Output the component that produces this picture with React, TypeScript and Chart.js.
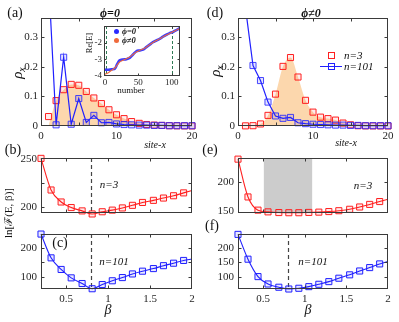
import React, { useEffect, useRef } from 'react';
import { Chart, registerables } from 'chart.js';
Chart.register(...registerables);

const SERIF = '"Liberation Serif", "Times New Roman", "DejaVu Serif", serif';
const W = 399;
const H = 322;

// ---------- data ----------
const sites = [1, 2, 3, 4, 5, 6, 7, 8, 9, 10, 11, 12, 13, 14, 15, 16, 17, 18, 19, 20];
// (a) phi = 0
const rhoA_n3 = [0.032, 0.086, 0.123, 0.141, 0.138, 0.117, 0.095, 0.076, 0.055, 0.038, 0.025, 0.015, 0.009, 0.005, 0.003, 0.002, 0.001, 0.0007, 0.0004, 0.0002];
const fillA = [0, 0.086, 0.123, 0.141, 0.138, 0.117, 0.095, 0.076, 0.055, 0.038, 0.025, 0.015, 0.009, 0.005, 0.003, 0.002, 0.001, 0.0007, 0.0004, 0.0002];
const rhoA_n101 = [0.5, 0.004, 0.233, 0.006, 0.093, 0.012, 0.036, 0.011, 0.012, 0.007, 0.005, 0.004, 0.003, 0.003, 0.002, 0.002, 0.001, 0.001, 0.001, 0.001];
// (d) phi != 0
const rhoD_n3 = [0.0005, 0.001, 0.007, 0.036, 0.108, 0.202, 0.232, 0.166, 0.087, 0.047, 0.03, 0.025, 0.02, 0.01, 0.004, 0.001, 0.0005, 0.0003, 0.0002, 0.0001];
const fillD = [0, 0, 0.007, 0.036, 0.108, 0.202, 0.232, 0.166, 0.087, 0.047, 0.03, 0.025, 0.02, 0.01, 0.004, 0.001, 0.0005, 0.0003, 0.0002, 0.0001];
const rhoD_n101 = [0.4, 0.205, 0.154, 0.081, 0.034, 0.026, 0.029, 0.011, 0.008, 0.006, 0.005, 0.004, 0.003, 0.003, 0.002, 0.002, 0.001, 0.001, 0.001, 0.001];

// lower panels: ln[F] vs beta
const beta = [0.2, 0.32, 0.44, 0.56, 0.69, 0.81, 0.93, 1.05, 1.17, 1.29, 1.41, 1.54, 1.66, 1.78, 1.9];
const betaEnd = 2.0;
const lnF_b = [251, 218, 205.5, 199.7, 196.2, 193, 195.3, 197, 199.3, 202, 205, 207.2, 209.6, 212, 215];
const lnF_bEnd = 217.5;
const lnF_c = [247, 165, 125, 96, 76.5, 58.5, 73, 86, 97, 109.5, 119, 128, 138, 146.5, 156];
const lnF_cEnd = 161;
const lnF_e = [240, 174, 151, 148, 146.8, 146.5, 146.5, 147, 147.5, 148.5, 150, 152.5, 156.5, 161, 166];
const lnF_eEnd = 170;
const lnF_f = [245, 161, 102, 77, 66, 60, 62.5, 68, 76, 85, 96.5, 108, 121, 132.5, 145];
const lnF_fEnd = 153;
const betaStar = 0.8;
const shadeE = [0.51, 1.09];

// inset: Re[E] vs number
const insetNum = [0, 5, 10, 15, 18, 22, 27, 32, 37, 42, 47, 52, 57, 62, 67, 72, 77, 82, 87, 92, 97, 102, 107, 112];
const reE_phi0 = [-3.62, -3.62, -3.6, -3.55, -3.3, -3.05, -3.0, -2.98, -2.9, -2.7, -2.5, -2.45, -2.4, -2.25, -2.1, -1.95, -1.85, -1.75, -1.62, -1.5, -1.4, -1.33, -1.22, -1.1];
const reE_phi1 = [-3.9, -3.8, -3.65, -3.5, -3.35, -3.15, -3.05, -2.95, -2.85, -2.7, -2.55, -2.45, -2.37, -2.25, -2.1, -1.97, -1.85, -1.75, -1.63, -1.52, -1.42, -1.32, -1.22, -1.12];
const insetMarks = [1, 101];

// tick values
const siteTicks = [0, 5, 10, 15, 20];
const siteLabels = [0, 10, 20];
const rhoTicks = [0, 0.1, 0.2, 0.3];
const betaTicks = [0.5, 1, 1.5, 2];

// ---------- styling ----------
const RED = '#ff2020';
const BLUE = '#2020ff';
const FILL = '#fcd7ad';
const MR = 4.3;

type Box = { L: number; T: number; R: number; B: number };

const near = (a: number, list: number[]) => list.some((v) => Math.abs(v - a) < 1e-9);

function framePlugin(cfg: any) {
  return {
    id: 'frame',
    beforeDatasetsDraw(chart: any) {
      const { ctx, chartArea: a, scales } = chart;
      ctx.save();
      if (cfg.bg) {
        ctx.fillStyle = cfg.bg;
        ctx.fillRect(a.left, a.top, a.right - a.left, a.bottom - a.top);
      }
      if (cfg.shade) {
        const x0 = scales.x.getPixelForValue(cfg.shade[0]);
        const x1 = scales.x.getPixelForValue(cfg.shade[1]);
        ctx.fillStyle = '#cccccc';
        ctx.fillRect(x0, a.top, x1 - x0, a.bottom - a.top);
      }
      (cfg.vlines || []).forEach((vl: any) => {
        const x = Math.round(scales.x.getPixelForValue(vl.x)) + 0.5;
        ctx.strokeStyle = vl.color;
        ctx.lineWidth = vl.width || 1;
        ctx.setLineDash(vl.dash);
        ctx.beginPath();
        ctx.moveTo(x, a.top);
        ctx.lineTo(x, a.bottom);
        ctx.stroke();
      });
      ctx.restore();
    },
    afterDatasetsDraw(chart: any) {
      const { ctx, chartArea: a, scales } = chart;
      ctx.save();
      ctx.strokeStyle = '#3a3a3a';
      ctx.lineWidth = 1;
      ctx.setLineDash([]);
      const l = Math.round(a.left) + 0.5;
      const r = Math.round(a.right) - 0.5;
      const t = Math.round(a.top) + 0.5;
      const b = Math.round(a.bottom) - 0.5;
      ctx.strokeRect(l, t, r - l, b - t);
      const len = cfg.tickLen;
      ctx.beginPath();
      scales.x.ticks.forEach((tk: any) => {
        const x = Math.round(scales.x.getPixelForValue(tk.value)) + 0.5;
        if (x <= l + 1 || x >= r - 1) return;
        ctx.moveTo(x, b);
        ctx.lineTo(x, b - len);
        ctx.moveTo(x, t);
        ctx.lineTo(x, t + len);
      });
      scales.y.ticks.forEach((tk: any) => {
        const y = Math.round(scales.y.getPixelForValue(tk.value)) + 0.5;
        if (y <= t + 1 || y >= b - 1) return;
        ctx.moveTo(l, y);
        ctx.lineTo(l + len, y);
        ctx.moveTo(r, y);
        ctx.lineTo(r - len, y);
      });
      ctx.stroke();
      ctx.restore();
    },
  };
}

function axis(min: number, max: number, ticks: number[], labels: number[], fmt: (v: number) => string, fontSize: number, pad: number, isX: boolean, size: number) {
  return {
    type: 'linear',
    min,
    max,
    grid: { display: false, drawTicks: false },
    border: { display: false },
    afterFit: (s: any) => {
      if (isX) s.height = size;
      else s.width = size;
    },
    afterBuildTicks: (s: any) => {
      s.ticks = ticks.map((v) => ({ value: v }));
    },
    ticks: {
      autoSkip: false,
      maxRotation: 0,
      minRotation: 0,
      padding: pad,
      color: '#262626',
      font: { family: SERIF, size: fontSize },
      callback: (v: any) => (near(Number(v), labels) ? fmt(Number(v)) : ''),
    },
  };
}

function makeConfig(spec: any) {
  const { box, xr, yr, datasets, plugin, font = 11, xw = 20, yw = 40, xpad = 4, ypad = 4 } = spec;
  const b: Box = box;
  return {
    type: 'line',
    data: { datasets },
    options: {
      animation: false,
      responsive: false,
      maintainAspectRatio: false,
      devicePixelRatio: 1,
      events: [],
      layout: { padding: { left: b.L - yw, top: b.T, right: W - b.R, bottom: H - b.B - xw } },
      plugins: { legend: { display: false }, tooltip: { enabled: false } },
      scales: {
        x: axis(xr.min, xr.max, xr.ticks, xr.labels, xr.fmt, font, xpad, true, xw),
        y: axis(yr.min, yr.max, yr.ticks, yr.labels, yr.fmt, font, ypad, false, yw),
      },
    },
    plugins: [plugin],
  };
}

const pts = (xs: number[], ys: number[]) => xs.map((x, i) => ({ x, y: ys[i] }));
const fmtPlain = (v: number) => String(v);
const fmtRho = (v: number) => (v === 0 ? '0' : v.toFixed(1));

function rhoPanel(box: Box, n3: number[], fill: number[], n101: number[]) {
  return {
    box,
    xr: { min: 0, max: 20, ticks: siteTicks, labels: siteLabels, fmt: fmtPlain },
    yr: { min: 0, max: 0.366, ticks: rhoTicks, labels: rhoTicks, fmt: fmtRho },
    ypad: 3,
    plugin: framePlugin({ tickLen: 3 }),
    datasets: [
      {
        data: pts(sites, n101),
        order: 0,
        borderColor: BLUE,
        borderWidth: 1.2,
        tension: 0,
        pointStyle: 'rect',
        pointRadius: MR,
        pointBorderWidth: 1,
        pointBorderColor: 'rgba(40,40,255,0.85)',
        pointBackgroundColor: 'rgba(40,40,255,0.12)',
        clip: { left: false, right: false, top: 0, bottom: false },
      },
      {
        data: pts(sites, n3),
        order: 1,
        showLine: false,
        pointStyle: 'rect',
        pointRadius: MR,
        pointBorderWidth: 1,
        pointBorderColor: RED,
        pointBackgroundColor: 'rgba(255,0,0,0.08)',
        clip: false,
      },
      {
        data: pts(sites, fill),
        order: 2,
        borderColor: 'transparent',
        borderWidth: 0,
        pointRadius: 0,
        fill: 'origin',
        backgroundColor: FILL,
        cubicInterpolationMode: 'monotone',
      },
    ],
  };
}

function lnPanel(box: Box, ys: number[], yEnd: number, color: string, fillc: string, yr: any, xLabels: number[], extra: any) {
  return {
    box,
    xr: { min: 0.2, max: 2, ticks: betaTicks, labels: xLabels, fmt: fmtPlain },
    yr,
    plugin: framePlugin({ tickLen: 3, ...extra }),
    datasets: [
      {
        data: pts([...beta, betaEnd], [...ys, yEnd]),
        borderColor: color,
        borderWidth: 1.1,
        cubicInterpolationMode: 'monotone',
        pointStyle: 'rect',
        pointRadius: [...beta.map(() => MR), 0],
        pointBorderWidth: 1,
        pointBorderColor: color,
        pointBackgroundColor: fillc,
        clip: false,
      },
    ],
  };
}

const insetSpec = {
  box: { L: 104, T: 26, R: 180, B: 76 },
  font: 9,
  xw: 12,
  yw: 16,
  xpad: 1,
  ypad: 2,
  xr: { min: -1.5, max: 112.5, ticks: [0, 50, 100], labels: [0, 50, 100], fmt: fmtPlain },
  yr: { min: -4, max: -0.97, ticks: [-4, -3, -2], labels: [-4, -3, -2], fmt: fmtPlain },
  plugin: framePlugin({
    tickLen: 2,
    bg: '#ffffff',
    vlines: insetMarks.map((x) => ({ x, color: '#2f7a55', dash: [3, 2], width: 1 })),
  }),
  datasets: [
    {
      data: pts(insetNum, reE_phi1),
      order: 0,
      borderColor: '#ef6a3c',
      borderWidth: 1.1,
      pointRadius: 0,
      tension: 0.3,
    },
    {
      data: pts(insetNum, reE_phi0),
      order: 1,
      borderColor: '#3b3bff',
      borderWidth: 2.6,
      pointRadius: 0,
      tension: 0.3,
    },
  ],
};

const specs = [
  rhoPanel({ L: 41, T: 18, R: 192, B: 126 }, rhoA_n3, fillA, rhoA_n101),
  insetSpec,
  rhoPanel({ L: 238, T: 18, R: 388, B: 126 }, rhoD_n3, fillD, rhoD_n101),
  lnPanel({ L: 41, T: 158, R: 192, B: 213 }, lnF_b, lnF_bEnd, RED, 'rgba(255,0,0,0.08)',
    { min: 194, max: 251.4, ticks: [200, 225, 250], labels: [200, 250], fmt: fmtPlain }, [], { vlines: [{ x: betaStar, color: '#444', dash: [4, 3], width: 1.2 }] }),
  lnPanel({ L: 41, T: 234, R: 192, B: 289 }, lnF_c, lnF_cEnd, BLUE, 'rgba(40,40,255,0.1)',
    { min: 57.6, max: 247.2, ticks: [100, 150, 200], labels: [100, 200], fmt: fmtPlain }, betaTicks, { vlines: [{ x: betaStar, color: '#444', dash: [4, 3], width: 1.2 }] }),
  lnPanel({ L: 238, T: 158, R: 388, B: 213 }, lnF_e, lnF_eEnd, RED, 'rgba(255,0,0,0.08)',
    { min: 146, max: 242, ticks: [150, 200], labels: [150, 200], fmt: fmtPlain }, [], { shade: shadeE }),
  lnPanel({ L: 238, T: 234, R: 388, B: 289 }, lnF_f, lnF_fEnd, BLUE, 'rgba(40,40,255,0.1)',
    { min: 60, max: 246.3, ticks: [100, 150, 200], labels: [100, 150, 200], fmt: fmtPlain }, betaTicks, { vlines: [{ x: betaStar, color: '#444', dash: [4, 3], width: 1.2 }] }),
];

function Panel({ spec }: { spec: any }) {
  const ref = useRef<HTMLCanvasElement | null>(null);
  useEffect(() => {
    if (!ref.current) return;
    const chart = new Chart(ref.current, makeConfig(spec) as any);
    return () => chart.destroy();
  }, [spec]);
  return <canvas ref={ref} width={W} height={H} style={{ position: 'absolute', left: 0, top: 0, width: W, height: H, display: 'block' }} />;
}

function T({ x, y, size = 11, italic = false, bold = false, rotate = false, left = false, children }: any) {
  return (
    <div
      style={{
        position: 'absolute',
        left: x,
        top: y,
        transform: `${left ? 'translate(0,-50%)' : 'translate(-50%,-50%)'}${rotate ? ' rotate(-90deg)' : ''}`,
        fontFamily: SERIF,
        fontSize: size,
        fontStyle: italic ? 'italic' : 'normal',
        fontWeight: bold ? 'bold' : 'normal',
        lineHeight: 1,
        whiteSpace: 'nowrap',
        color: '#111',
      }}
    >
      {children}
    </div>
  );
}

const Sq = ({ x, y, color }: any) => (
  <div style={{ position: 'absolute', left: x - 3, top: y - 3, width: 4.5, height: 4.5, border: `1.1px solid ${color}` }} />
);
const Dot = ({ x, y, color }: any) => (
  <div style={{ position: 'absolute', left: x - 2.5, top: y - 2.5, width: 5, height: 5, borderRadius: '50%', background: color }} />
);

export default function App() {
  return (
    <div style={{ position: 'absolute', left: 0, top: 0, width: W, height: H, background: '#fff', overflow: 'hidden' }}>
      {specs.map((s, i) => (
        <Panel key={i} spec={s} />
      ))}
      {/* panel labels & titles */}
      <T x={15} y={13} size={14}>(a)</T>
      <T x={110} y={13} size={12} italic bold>ϕ=0</T>
      <T x={215} y={13} size={14}>(d)</T>
      <T x={311} y={13} size={12} italic bold>ϕ≠0</T>
      <T x={13} y={150} size={14}>(b)</T>
      <T x={210} y={150} size={14}>(e)</T>
      <T x={60} y={243} size={14}>(c)</T>
      <T x={212} y={226} size={14}>(f)</T>
      {/* axis titles */}
      <T x={18} y={73} size={15} italic rotate>ρ<span style={{ fontSize: 10, verticalAlign: -3 }}>x</span></T>
      <T x={216} y={71} size={15} italic rotate>ρ<span style={{ fontSize: 10, verticalAlign: -3 }}>x</span></T>
      <T x={155} y={145} size={10} italic>site-x</T>
      <T x={346} y={143} size={10} italic>site-x</T>
      <T x={108} y={310} size={14} italic>β</T>
      <T x={308} y={310} size={14} italic>β</T>
      <T x={8} y={213} size={11} rotate>ln[ℱ(E, β)]</T>
      {/* in-panel notes */}
      <T x={109} y={184} size={11} italic>n=3</T>
      <T x={363} y={185} size={11} italic>n=3</T>
      <T x={114} y={261} size={11} italic>n=101</T>
      <T x={313} y={261} size={11} italic>n=101</T>
      {/* inset labels */}
      <T x={89} y={43} size={8.5} rotate>Re[E]</T>
      <T x={131} y={90} size={9}>number</T>
      <Dot x={116} y={31} color="#2a2aff" />
      <T x={122} y={31} size={8.5} italic bold left>ϕ=0</T>
      <Dot x={116} y={40} color="#ef6a3c" />
      <T x={122} y={40} size={8.5} italic bold left>ϕ≠0</T>
      {/* legend (d) */}
      <Sq x={331} y={55} color={RED} />
      <T x={344} y={55} size={11} italic left>n=3</T>
      <div style={{ position: 'absolute', left: 320, top: 65.5, width: 22, height: 1.2, background: BLUE }} />
      <Sq x={331} y={66} color={BLUE} />
      <T x={344} y={66} size={11} italic left>n=101</T>
    </div>
  );
}
